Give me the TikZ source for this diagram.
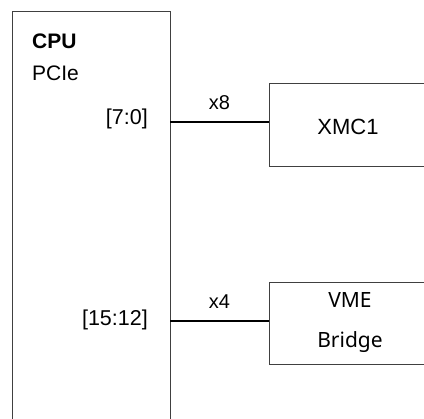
\documentclass[tikz,border=0pt]{standalone}
\usepackage{fontspec}
\setmainfont{Liberation Sans}
\newfontfamily\bridgefont{Noto Sans}
\begin{document}
\begin{tikzpicture}[x=1pt,y=-1pt,
  block/.style={draw=black!75, line width=1.4pt, inner sep=0pt},
  link/.style={draw=black, line width=1.3pt},
  lbl/.style={inner sep=0pt, font=\fontsize{20}{24}\selectfont},
  port/.style={inner sep=0pt, anchor=east, font=\fontsize{21.5}{24}\selectfont}]
\clip (0,0) rectangle (424,419);
\fill[white] (0,0) rectangle (424,419);

% CPU block, running past the lower edge
\node[block, anchor=north west, minimum width=158pt, minimum height=440pt] (cpu) at (12,11) {};
\node[inner sep=0pt, anchor=west, font=\bfseries\fontsize{21}{24}\selectfont] (cpuname) at (32,41) {CPU};
\node[inner sep=0pt, anchor=west, font=\fontsize{21}{24}\selectfont] (pcie) at (32,73) {PCIe};
\node[port] (p1) at (148,119) {[7:0]};
\node[port] (p2) at (148,320) {[15:12]};

% Peripheral blocks, running past the right edge
\node[block, anchor=north west, minimum width=170pt, minimum height=83pt] (xmc) at (269,83) {};
\node[inner sep=0pt, font=\fontsize{22}{24}\selectfont] (xmctext) at (348,127) {XMC1};
\node[block, anchor=north west, minimum width=170pt, minimum height=82pt] (vme) at (269,282) {};
\node[inner sep=0pt, align=center, font=\bridgefont\fontsize{21}{40}\selectfont] (vmetext) at (350,323) {VME\\Bridge};

% PCIe links
\coordinate (a1) at (170,122);
\coordinate (a2) at (170,321);
\draw[link] (a1) -- (a1 -| xmc.west) node[midway, above=12pt, lbl] (w1) {x8};
\draw[link] (a2) -- (a2 -| vme.west) node[midway, above=12pt, lbl] (w2) {x4};
\end{tikzpicture}
\end{document}
